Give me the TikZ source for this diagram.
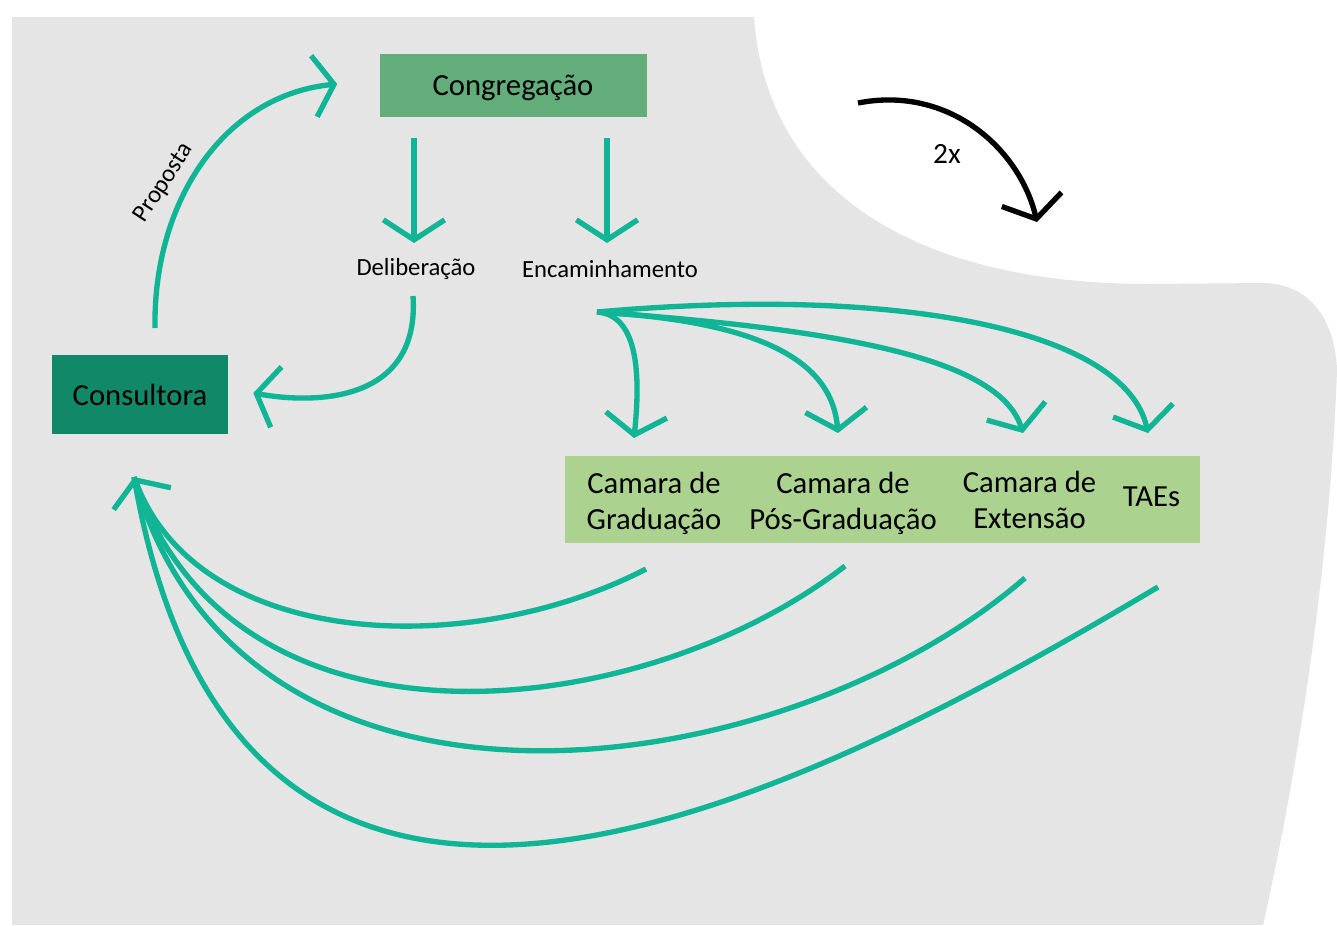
\documentclass[tikz,border=0pt]{standalone}
\usepackage{fontspec}
\setmainfont{Carlito}
\usetikzlibrary{arrows.meta,calc}

\definecolor{panelgray}{RGB}{229,229,229}
\definecolor{flowc}{RGB}{16,181,150}
\definecolor{congc}{RGB}{98,173,122}
\definecolor{consc}{RGB}{17,137,104}
\definecolor{barc}{RGB}{172,210,144}

\tikzset{
  flowline/.style={draw=flowc, line width=4pt},
  flow/.style={flowline, -{Straight Barb[length=15pt,width=46pt]}},
  loopline/.style={draw=black, line width=4pt, -{Straight Barb[length=15pt,width=46pt]}},
  bigtext/.style={inner sep=0pt, text=black, font=\fontsize{23pt}{27pt}\selectfont},
  smalltext/.style={inner sep=0pt, text=black, font=\fontsize{18.5pt}{22pt}\selectfont},
  boxnode/.style={bigtext, rectangle},
}

\begin{document}
\begin{tikzpicture}[x=0.75pt,y=-0.75pt]
\useasboundingbox (0,0) rectangle (1337,925);
\fill[white] (0,0) rectangle (1337,925);

% grey backdrop with the white bay at the top right
\fill[panelgray] (12,17) -- (754,17)
  .. controls (765,180) and (900,284) .. (1150,284) -- (1262,283)
  .. controls (1310,283) and (1335,320) .. (1337,370)
  .. controls (1330,560) and (1300,760) .. (1263,925)
  -- (12,925) -- cycle;

% boxes
\node[boxnode, fill=congc, text depth=0pt, minimum width=200.25pt, minimum height=47.25pt] (cong) at (513,85) {Congregação};
\node[boxnode, fill=consc, minimum width=132pt, minimum height=59.25pt] (cons) at (140,394.5) {Consultora};
\node[rectangle, fill=barc, inner sep=0pt, minimum width=476.25pt, minimum height=65.25pt] (bar) at (882.5,499.5) {};

% chamber labels inside the bar
\node[bigtext, align=center] (grad) at (654,503) {Camara de\\Graduação};
\node[bigtext, align=center] (pg) at (843,503) {Camara de\\Pós-Graduação};
\node[bigtext, align=center] (ext) at (1029.5,500) {Camara de\\Extensão};
\node[bigtext] (taes) at (1151.5,497) {TAEs};

% outcome labels
\node[smalltext] (delib) at (416,269) {Deliberação};
\node[smalltext] (encam) at (610,269) {Encaminhamento};
\node[smalltext, rotate=57] (prop) at (164,183) {Proposta};
\node[inner sep=0pt, font=\fontsize{22pt}{26pt}\selectfont] (twox) at (947,154) {2x};

% proposal from Consultora to Congregação
\draw[flow] ($(cons.center)+(15,-66.5)$) .. controls (153,200) and (225,95) .. ($(cong.west)+(-42,-1)$);

% Congregação outcomes
\draw[flow] ($(cong.center)+(-99,53)$) -- ($(delib.center)+(-2,-26)$);
\draw[flow] ($(cong.center)+(94,53)$) -- ($(encam.center)+(-3,-26)$);

% deliberation back to Consultora
\draw[flow] ($(delib.center)+(-3,27)$) .. controls (420,400) and (320,405) .. ($(cons.east)+(25,-1.5)$);

% forwarding fan to the chambers
\coordinate (fan) at ($(encam.center)+(-13,43)$);
\draw[flow] (fan) .. controls (640,315) and (640,380) .. ($(grad.center)+(-20,-65)$);
\draw[flow] (fan) .. controls (770,322) and (832,365) .. ($(pg.center)+(-5,-70)$);
\draw[flow] (fan) .. controls (850,330) and (1000,360) .. ($(ext.center)+(-6.5,-67)$);
\draw[flow] (fan) .. controls (900,285) and (1125,330) .. ($(taes.center)+(-3.5,-64)$);

% chambers report back to Consultora
\coordinate (cin) at ($(cons.center)+(-6,82.5)$);
\draw[flowline] ($(pg.center)+(2,63)$) .. controls (640,725) and (230,770) .. (cin);
\draw[flowline] ($(ext.center)+(-4.5,78)$) .. controls (780,790) and (240,860) .. (cin);
\draw[flowline] ($(taes.center)+(6.5,90)$) .. controls (800,800) and (240,1090) .. (cin);
\draw[flow] ($(grad.center)+(-8,66)$) .. controls (470,660) and (200,650) .. (cin);

% repetition marker
\coordinate (loopa) at (858,103);
\coordinate (loopb) at (1037,222);
\draw[loopline] (loopa) .. controls (950,85) and (1020,150) .. (loopb);
\end{tikzpicture}
\end{document}
